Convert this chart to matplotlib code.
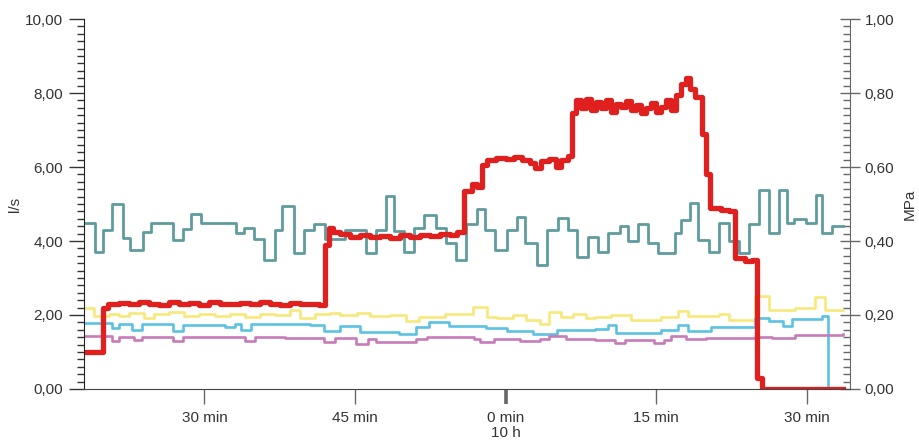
import matplotlib
matplotlib.use("Agg")
import matplotlib.pyplot as plt
from matplotlib.ticker import MultipleLocator, FuncFormatter

plt.rcParams['font.family'] = ['Liberation Sans', 'DejaVu Sans']

# time in minutes relative to 10 h
flow_t = [-42.0, -40.1, -39.6, -38.5, -37.5, -36.5, -35.5, -34.5, -33.5, -32.5,
          -31.5, -30.5, -29.5, -28.5, -27.5, -26.5, -25.5, -24.5, -23.5, -22.5,
          -21.5, -20.5, -19.5, -18.6, -18.0, -17.6, -17.2, -16.5, -15.5, -14.5,
          -13.5, -12.5, -11.5, -10.5, -9.5, -8.5, -7.5, -6.5, -5.5, -4.8,
          -4.1, -3.4, -2.9, -2.4, -1.9, -1.0, 0.0, 0.8, 1.6, 2.4,
          2.9, 3.5, 4.3, 5.0, 5.5, 6.2, 6.6, 7.0, 7.5, 8.0,
          8.5, 9.0, 9.5, 10.0, 10.5, 11.0, 11.5, 12.0, 12.5, 13.0,
          13.5, 14.0, 14.5, 15.0, 15.5, 16.0, 16.5, 17.0, 17.5, 18.0,
          18.4, 18.9, 19.6, 20.0, 20.4, 21.5, 22.2, 22.8, 23.8, 24.5,
          25.0, 25.5, 33.6]
flow_ls = [1.00, 2.20, 2.30, 2.33, 2.29, 2.35, 2.31, 2.27, 2.34, 2.30,
           2.33, 2.28, 2.35, 2.31, 2.29, 2.33, 2.30, 2.36, 2.31, 2.28,
           2.33, 2.30, 2.31, 2.27, 3.90, 4.35, 4.25, 4.18, 4.12, 4.16,
           4.10, 4.14, 4.09, 4.15, 4.11, 4.17, 4.13, 4.19, 4.16, 4.24,
           5.35, 5.55, 5.45, 6.05, 6.20, 6.25, 6.22, 6.28, 6.18, 6.10,
           5.98, 6.15, 6.22, 6.00, 6.20, 6.30, 7.45, 7.80, 7.60, 7.85,
           7.55, 7.75, 7.60, 7.80, 7.50, 7.70, 7.62, 7.78, 7.55, 7.68,
           7.45, 7.60, 7.72, 7.50, 7.62, 7.80, 7.55, 7.95, 8.25, 8.40,
           8.10, 7.90, 6.90, 5.80, 4.90, 4.85, 4.80, 3.55, 3.45, 3.50,
           0.30, 0.00, 0.00]

# pressures in MPa
p1_t = [-42.0, -40.9, -40.1, -39.2, -38.1, -37.4, -36.1, -35.3, -33.1, -32.1,
        -31.3, -30.3, -26.9, -26.1, -25.1, -24.1, -23.0, -22.3, -21.1, -20.1,
        -19.1, -18.0, -16.0, -13.9, -12.9, -11.9, -11.1, -10.1, -9.1, -8.1,
        -6.9, -5.9, -4.9, -3.9, -2.9, -2.1, -1.1, 0.1, 1.1, 1.9,
        3.1, 4.1, 5.2, 6.2, 7.1, 8.2, 9.2, 10.2, 11.4, 12.2,
        13.2, 14.2, 15.2, 16.9, 17.5, 18.4, 19.2, 20.3, 21.3, 22.2,
        23.2, 24.2, 25.2, 26.2, 27.2, 28.0, 28.7, 29.9, 30.9, 31.5,
        32.5, 33.6]
p1_mpa = [0.450, 0.371, 0.430, 0.500, 0.407, 0.377, 0.423, 0.450, 0.403, 0.432,
          0.473, 0.448, 0.421, 0.435, 0.405, 0.349, 0.430, 0.495, 0.367, 0.430,
          0.445, 0.405, 0.430, 0.367, 0.430, 0.522, 0.428, 0.371, 0.435, 0.470,
          0.435, 0.394, 0.349, 0.445, 0.486, 0.430, 0.377, 0.430, 0.465, 0.394,
          0.335, 0.430, 0.463, 0.430, 0.358, 0.410, 0.371, 0.421, 0.440, 0.400,
          0.445, 0.394, 0.367, 0.421, 0.456, 0.502, 0.403, 0.371, 0.448, 0.400,
          0.367, 0.445, 0.538, 0.421, 0.538, 0.448, 0.460, 0.448, 0.524, 0.421,
          0.440, 0.440]

p2_t = [-42.0, -41.0, -39.5, -38.5, -37.5, -36.0, -35.0, -33.5, -32.0, -30.5,
        -29.0, -27.5, -26.0, -24.5, -23.0, -21.5, -20.5, -19.0, -17.5, -16.5,
        -14.8, -13.5, -11.5, -9.9, -8.6, -6.0, -3.25, -1.9, -0.9, 0.7,
        2.0, 3.4, 4.3, 5.5, 6.7, 8.0, 8.9, 10.5, 12.5, 15.5,
        17.2, 18.2, 21.3, 22.2, 24.8, 26.2, 28.8, 30.8, 31.8, 33.6]
p2_mpa = [0.219, 0.198, 0.202, 0.196, 0.205, 0.193, 0.203, 0.208, 0.197, 0.204,
          0.198, 0.202, 0.195, 0.203, 0.200, 0.214, 0.192, 0.202, 0.205, 0.200,
          0.205, 0.198, 0.200, 0.184, 0.195, 0.203, 0.222, 0.195, 0.192, 0.200,
          0.186, 0.175, 0.208, 0.195, 0.202, 0.192, 0.195, 0.200, 0.186, 0.195,
          0.210, 0.198, 0.204, 0.186, 0.252, 0.214, 0.220, 0.248, 0.214, 0.214]

p3_t = [-42.0, -39.2, -38.5, -37.2, -36.2, -33.1, -32.1, -28.0, -27.0, -26.4,
        -25.4, -19.5, -18.1, -16.5, -14.5, -10.6, -8.9, -7.6, -5.6, -2.0,
        0.1, 2.7, 5.1, 8.9, 10.2, 11.0, 15.5, 17.2, 18.2, 20.5,
        24.8, 26.2, 27.6, 28.5, 31.5, 32.1, 32.4]
p3_mpa = [0.178, 0.165, 0.175, 0.160, 0.176, 0.158, 0.172, 0.168, 0.176, 0.160,
          0.177, 0.174, 0.158, 0.170, 0.155, 0.150, 0.168, 0.180, 0.170, 0.166,
          0.157, 0.150, 0.160, 0.162, 0.172, 0.152, 0.160, 0.173, 0.158, 0.168,
          0.192, 0.185, 0.170, 0.190, 0.198, 0.000, 0.000]

p4_t = [-42.0, -39.2, -38.5, -37.0, -36.2, -33.1, -32.1, -26.0, -25.0, -22.0,
        -18.1, -17.0, -14.9, -13.7, -12.9, -8.9, -7.8, -3.2, -2.6, -1.2,
        1.4, 3.4, 4.3, 6.0, 8.9, 10.9, 11.9, 14.8, 15.8, 16.5,
        18.0, 20.0, 24.8, 26.5, 28.8, 33.6]
p4_mpa = [0.142, 0.130, 0.140, 0.132, 0.141, 0.130, 0.140, 0.130, 0.140, 0.137,
          0.128, 0.138, 0.122, 0.136, 0.128, 0.134, 0.140, 0.136, 0.127, 0.136,
          0.130, 0.136, 0.142, 0.135, 0.133, 0.125, 0.133, 0.125, 0.133, 0.142,
          0.135, 0.138, 0.141, 0.138, 0.146, 0.148]

tick_pos = [-30, -15, 0, 15, 30]
tick_labels = ['30 min', '45 min', '0 min\n10 h', '15 min', '30 min']

fig = plt.figure(figsize=(9.2, 4.41), dpi=100)
ax = fig.add_axes([84 / 920, 1 - 389 / 441, 766 / 920, 370 / 441])
ax2 = ax.twinx()

ax2.step(p1_t, p1_mpa, where='post', color='#5f9c9e', lw=2.0)
ax2.step(p2_t, p2_mpa, where='post', color='#f6e97a', lw=1.9)
ax2.step(p3_t, p3_mpa, where='post', color='#5cc2e2', lw=1.9)
ax2.step(p4_t, p4_mpa, where='post', color='#c77cb9', lw=1.9)
ax.step(flow_t, flow_ls, where='post', color='#e01f1f', lw=3.8)

# flow axis drawn above the pressure axis
ax.set_zorder(ax2.get_zorder() + 1)
ax.patch.set_visible(False)

ax.set_xlim(-42, 34.3)
ax.set_ylim(0, 10)
ax2.set_ylim(0, 1)

comma = FuncFormatter(lambda v, _: f"{v:.2f}".replace('.', ','))
ax.yaxis.set_major_locator(MultipleLocator(2))
ax.yaxis.set_minor_locator(MultipleLocator(0.2))
ax.yaxis.set_major_formatter(comma)
ax2.yaxis.set_major_locator(MultipleLocator(0.2))
ax2.yaxis.set_minor_locator(MultipleLocator(0.02))
ax2.yaxis.set_major_formatter(comma)

ax.set_xticks(tick_pos)
ax.set_xticklabels(tick_labels, linespacing=1.05)

ax.tick_params(axis='y', which='major', length=11, width=1, pad=4,
               labelsize=11, colors='#333333')
ax.tick_params(axis='y', which='minor', length=5, width=1, color='#333333')
ax.tick_params(axis='x', length=11, width=1, pad=5, labelsize=11,
               colors='#333333', color='#666666')
ax.xaxis.get_major_ticks()[2].tick1line.set_markeredgewidth(2.6)
ax.xaxis.get_major_ticks()[2].tick1line.set_color('#222222')

ax2.tick_params(axis='y', which='major', direction='inout', length=15, width=1,
                pad=3, labelsize=11, colors='#333333', color='#666666')
ax2.tick_params(axis='y', which='minor', direction='in', length=5, width=1,
                color='#666666')

for side in ('top', 'right'):
    ax.spines[side].set_visible(False)
for side in ('top', 'left', 'bottom'):
    ax2.spines[side].set_visible(False)
ax.spines['left'].set_color('#222222')
ax.spines['bottom'].set_color('#444444')
ax2.spines['right'].set_color('#666666')

fig.text(15 / 920, 1 - 204 / 441, 'l/s', rotation=90, ha='center', va='center',
         fontsize=11, color='#333333')
fig.text(910 / 920, 1 - 204 / 441, 'MPa', rotation=90, ha='center', va='center',
         fontsize=11, color='#333333')

fig.savefig('out.png', dpi=100)
